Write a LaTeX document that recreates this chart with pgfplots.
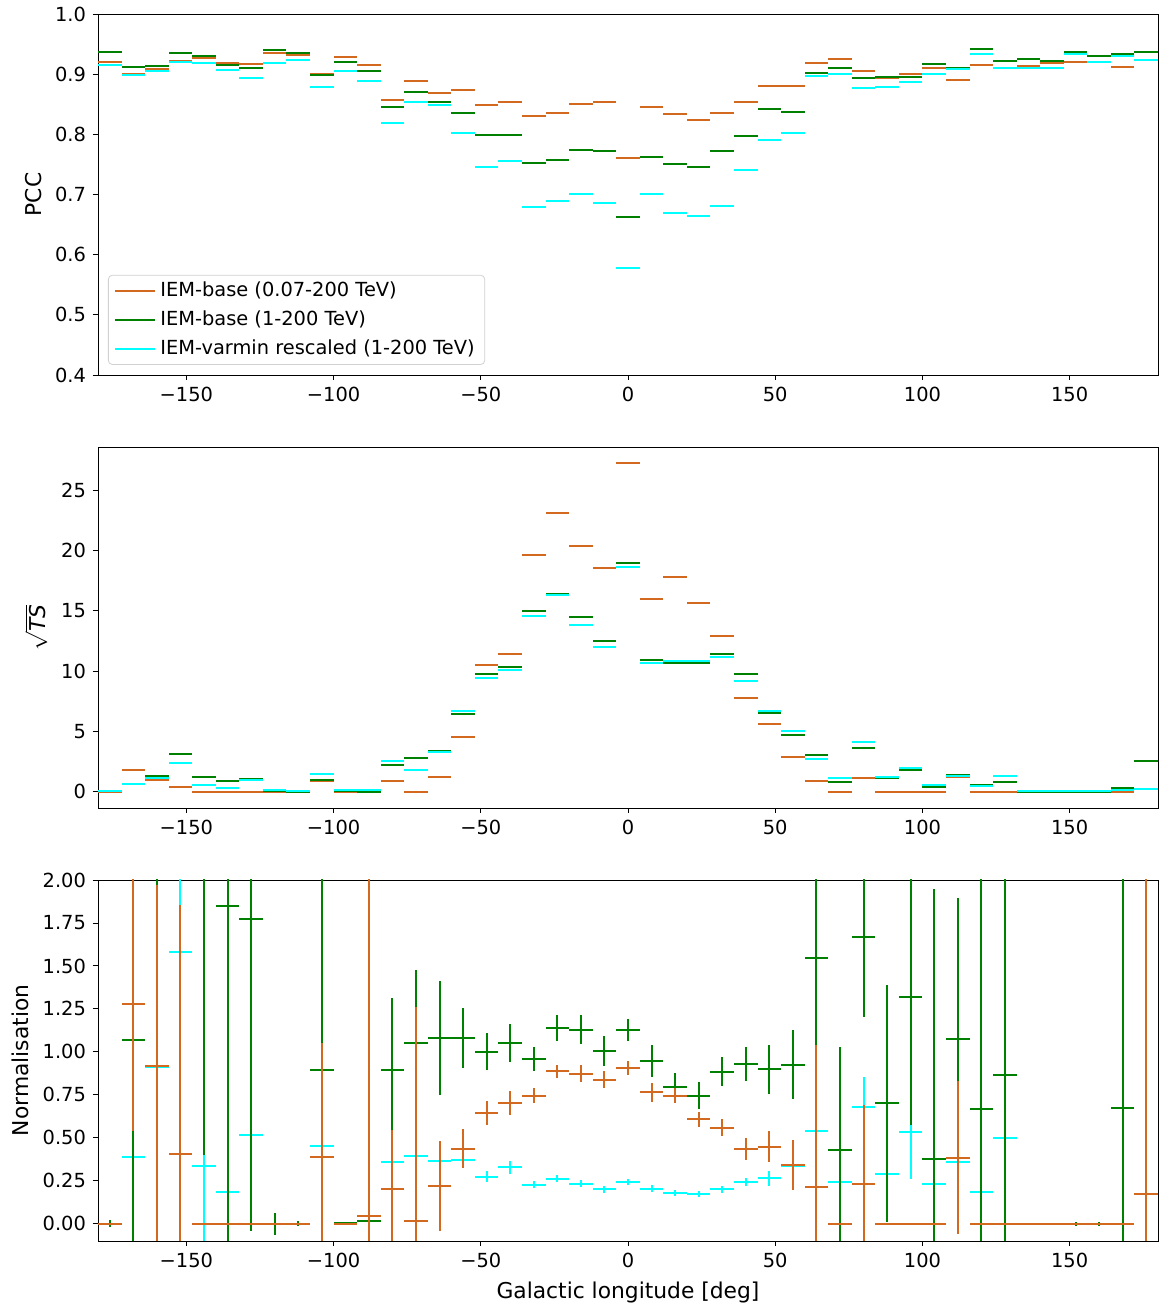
\documentclass[border=0pt]{standalone}
\usepackage{fontspec}
\setmainfont{DejaVu Sans}
\usepackage{pgfplots}
\usepackage{pgfplotstable}
\pgfplotsset{compat=1.18}
\definecolor{corange}{RGB}{210,105,30}
\definecolor{cgreen}{RGB}{0,128,0}
\definecolor{ccyan}{RGB}{0,255,255}

% PCC
\pgfplotstableread{
x o g c
-176 0.921 0.937 0.915
-168 0.901 0.912 0.898
-160 0.908 0.914 0.906
-152 0.922 0.935 0.920
-144 0.927 0.930 0.919
-136 0.919 0.916 0.907
-128 0.917 0.911 0.893
-120 0.935 0.940 0.918
-112 0.932 0.935 0.923
-104 0.900 0.898 0.879
-96 0.928 0.921 0.906
-88 0.916 0.906 0.889
-80 0.857 0.846 0.819
-72 0.889 0.871 0.854
-64 0.868 0.854 0.849
-56 0.874 0.835 0.803
-48 0.848 0.799 0.745
-40 0.853 0.799 0.755
-32 0.831 0.753 0.679
-24 0.835 0.758 0.690
-16 0.851 0.774 0.700
-8 0.854 0.773 0.686
0 0.760 0.663 0.577
8 0.846 0.762 0.700
16 0.833 0.751 0.670
24 0.823 0.746 0.665
32 0.835 0.773 0.681
40 0.853 0.798 0.740
48 0.880 0.842 0.790
56 0.881 0.837 0.803
64 0.918 0.902 0.897
72 0.925 0.911 0.901
80 0.906 0.894 0.877
88 0.893 0.895 0.879
96 0.901 0.895 0.887
104 0.911 0.917 0.900
112 0.891 0.911 0.909
120 0.915 0.941 0.934
128 0.911 0.922 0.911
136 0.914 0.926 0.911
144 0.919 0.922 0.910
152 0.921 0.936 0.934
160 0.920 0.931 0.921
168 0.912 0.933 0.930
176 0.923 0.936 0.923
}\pcctable

% sqrt TS
\pgfplotstableread{
x o g c
-176 0 0.02 0.05
-168 1.80 0.64 0.60
-160 0.94 1.30 1.11
-152 0.42 3.16 2.41
-144 0 1.19 0.55
-136 0 0.89 0.28
-128 0 1.02 1.00
-120 0 0.05 0.17
-112 0 0 0.02
-104 0.89 0.94 1.44
-96 0 0.08 0.17
-88 0.11 0 0.14
-80 0.89 2.24 2.52
-72 0 2.77 1.83
-64 1.19 3.35 3.30
-56 4.49 6.40 6.67
-48 10.47 9.80 9.44
-40 11.41 10.30 10.11
-32 19.60 14.98 14.59
-24 23.15 16.39 16.30
-16 20.38 14.51 13.84
-8 18.58 12.49 11.99
0 27.24 18.96 18.60
8 16.00 10.94 10.66
16 17.83 10.66 10.83
24 15.64 10.69 10.80
32 12.90 11.38 11.16
40 7.78 9.77 9.19
48 5.59 6.56 6.67
56 2.88 4.71 5.04
64 0.89 3.02 2.69
72 0 0.80 1.16
80 1.14 3.63 4.15
88 0 1.14 1.22
96 0 1.83 1.99
104 0 0.36 0.58
112 1.25 1.38 1.30
120 0 0.53 0.44
128 0 0.80 1.27
136 0 0 0.05
144 0 0 0.05
152 0 0 0.05
160 0 0 0.05
168 0 0.33 0.10
176 0.19 2.55 0.20
}\tstable

% Normalisation
\pgfplotstableread{
x o oe g ge c ce
-176 0 0 0 0.02 0 0
-168 1.279 0.742 1.07 1.4 0.388 0.4
-160 0.919 1.05 0.92 1.2 0.911 0.8
-152 0.405 1.45 0.405 1.45 1.583 0.7
-144 0 0 2.3 1.9 0.337 0.5
-136 0 0 1.849 2.0 0.184 0.3
-128 0 0 1.771 1.81 0.514 0.5
-120 0 0 0 0.065 0 0
-112 0 0 0 0.015 0 0
-104 0.386 0.665 0.895 1.3 0.455 0.4
-96 0 0 0.005 0 0.005 0
-88 0.043 2.2 0.014 2.2 0.014 0.3
-80 0.205 0.342 0.893 0.42 0.359 0.3
-72 0.019 1.245 1.054 0.42 0.395 0.3
-64 0.221 0.26 1.081 0.33 0.364 0.1
-56 0.438 0.113 1.081 0.175 0.370 0.03
-48 0.645 0.07 1.002 0.11 0.275 0.033
-40 0.703 0.072 1.052 0.11 0.328 0.037
-32 0.746 0.045 0.959 0.072 0.227 0.02
-24 0.886 0.04 1.138 0.077 0.262 0.02
-16 0.874 0.047 1.128 0.084 0.233 0.02
-8 0.839 0.05 1.006 0.088 0.202 0.02
0 0.905 0.04 1.128 0.066 0.244 0.018
8 0.764 0.053 0.948 0.093 0.205 0.02
16 0.744 0.044 0.797 0.08 0.178 0.017
24 0.607 0.042 0.746 0.078 0.174 0.018
32 0.558 0.05 0.884 0.085 0.202 0.02
40 0.436 0.066 0.928 0.10 0.242 0.024
48 0.448 0.09 0.899 0.143 0.264 0.043
56 0.343 0.145 0.926 0.20 0.339 0.05
64 0.217 0.824 1.547 0.7 0.541 0.2
72 0 0 0.430 0.6 0.246 0.2
80 0.231 0.46 1.671 0.466 0.682 0.17
88 0 0 0.700 0.69 0.289 0.2
96 0 0 1.322 0.75 0.533 0.27
104 0 0 0.376 1.57 0.229 0.2
112 0.384 0.445 1.074 0.82 0.357 0.2
120 0 0 0.669 2.0 0.184 0.2
128 0 0 0.866 1.5 0.502 0.3
136 0 0 0 0 0 0
144 0 0 0 0 0 0
152 0 0 0 0.01 0 0
160 0 0 0 0.01 0 0
168 0 0 0.676 2.0 0 0
176 0.172 2.2 nan nan nan nan
}\normtable

\pgfplotsset{
  panel/.style={
    scale only axis, width=530pt, height=180.5pt,
    xmin=-180, xmax=180,
    xtick={-150,-100,-50,0,50,100,150},
    xticklabels={−150,−100,−50,0,50,100,150},
    tick align=outside, xtick pos=bottom, ytick pos=left,
    major tick length=2.5pt,
    every tick/.style={line width=0.45pt, black},
    axis line style={line width=0.45pt},
    ticklabel style={font=\fontsize{9.7}{11}\selectfont},
    label style={font=\fontsize{10.9}{12}\selectfont},
    anchor=south west,
  },
  eb/.style={draw=none, mark=none, line width=1pt,
    legend image code/.code={\draw[line width=1pt,draw=#1] (0pt,0pt) -- (20pt,0pt);},
    error bars/.cd, x dir=both, x fixed=4, error mark=none,
    error bar style={line width=1pt, solid, draw=#1}},
  ebv/.style={draw=none, mark=none, line width=1pt,
    error bars/.cd, x dir=both, x fixed=4, y dir=both, y explicit, error mark=none,
    error bar style={line width=1pt, solid, draw=#1}},
}

\begin{document}
\begin{tikzpicture}
\useasboundingbox (0,0) rectangle (581.5pt,653pt);

\begin{axis}[panel, at={(49pt,465.5pt)},
  ymin=0.4, ymax=1.0,
  ytick={0.4,0.5,0.6,0.7,0.8,0.9,1.0},
  yticklabels={0.4,0.5,0.6,0.7,0.8,0.9,1.0},
  ylabel={PCC},
  legend style={at={(0.0094,0.028)}, anchor=south west, draw=black!18, rounded corners=2pt,
    fill=white, font=\fontsize{9.7}{11}\selectfont, row sep=1.5pt, inner xsep=3pt, inner ysep=1.5pt,
    cells={anchor=west}},
]
\addplot[eb=corange] table[x=x,y=o] {\pcctable};
\addlegendentry{IEM-base (0.07-200 TeV)}
\addplot[eb=cgreen] table[x=x,y=g] {\pcctable};
\addlegendentry{IEM-base (1-200 TeV)}
\addplot[eb=ccyan] table[x=x,y=c] {\pcctable};
\addlegendentry{IEM-varmin rescaled (1-200 TeV)}
\end{axis}

\begin{axis}[panel, at={(49pt,249pt)},
  ymin=-1.362, ymax=28.6,
  ytick={0,5,10,15,20,25},
  yticklabels={0,5,10,15,20,25},
  ylabel={$\sqrt{\textit{TS}}$},
]
\addplot[eb=corange] table[x=x,y=o] {\tstable};
\addplot[eb=cgreen] table[x=x,y=g] {\tstable};
\addplot[eb=ccyan] table[x=x,y=c] {\tstable};
\end{axis}

\begin{axis}[panel, at={(49pt,32.5pt)},
  ymin=-0.1, ymax=2.0,
  ytick={0,0.25,0.5,0.75,1.0,1.25,1.5,1.75,2.0},
  yticklabels={0.00,0.25,0.50,0.75,1.00,1.25,1.50,1.75,2.00},
  ylabel={Normalisation},
  xlabel={Galactic longitude [deg]},
]
\addplot[ebv=ccyan] table[x=x,y=c,y error=ce] {\normtable};
\addplot[ebv=cgreen] table[x=x,y=g,y error=ge] {\normtable};
\addplot[ebv=corange] table[x=x,y=o,y error=oe] {\normtable};
\end{axis}
\end{tikzpicture}
\end{document}
